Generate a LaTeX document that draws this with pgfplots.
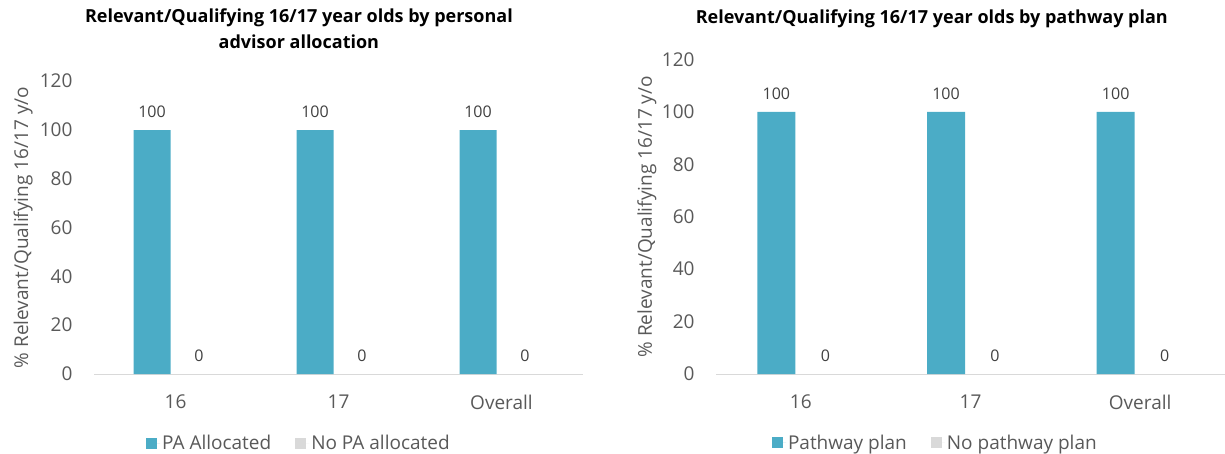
\documentclass[border=0pt]{standalone}
\usepackage{pgfplots}
\pgfplotsset{compat=1.18}
\usepackage{pgfplotstable}
\usepackage{fontspec}
\setmainfont{Open Sans}

\definecolor{teal}{HTML}{4BACC6}
\definecolor{lgrey}{HTML}{D9D9D9}
\definecolor{txt}{HTML}{595959}
\definecolor{vtxt}{HTML}{404040}

\pgfplotstableread{
x  yes no
0  100 0
1  100 0
2  100 0
}\paData

\pgfplotstableread{
x  yes no
0  100 0
1  100 0
2  100 0
}\ppData

\pgfplotsset{
  panel/.style={
    scale only axis,
    anchor=south west,
    ymin=0, ymax=120, ytick={0,20,...,120},
    xmin=-0.5, xmax=2.5,
    xtick={0,1,2}, xticklabels={16,17,Overall},
    axis lines*=left,
    x axis line style={draw=lgrey, line width=1pt, -},
    y axis line style={draw=none},
    tick style={draw=none},
    /pgf/number format/assume math mode=true,
    ticklabel style={font=\fontsize{19}{22}\selectfont, text=txt},
    xticklabel style={yshift=-13pt},
    yticklabel style={xshift=-18pt},
    nodes near coords,
    every node near coord/.append style={font=\fontsize{16}{19}\selectfont, text=vtxt, anchor=center, yshift=18pt},
    legend columns=2,
    legend style={draw=none, font=\fontsize{19}{22}\selectfont, text=txt, anchor=center,
      /tikz/every even column/.append style={column sep=22pt}},
    title style={font=\fontsize{18}{26}\selectfont\bfseries, align=center, anchor=center},
    ylabel style={font=\fontsize{19}{22}\selectfont, text=txt, rotate=0, anchor=center},
  },
  sqr/.style={legend image code/.code={\fill[##1, draw=none] (0pt,-5.5pt) rectangle (11pt,5.5pt);
    \path (0pt,0pt) -- (14pt,0pt);}},
}

\begin{document}
\begin{tikzpicture}
\useasboundingbox (0pt,0pt) rectangle (1225pt,-454pt);

% left panel
\begin{axis}[panel,
  at={(94pt,-374pt)}, width=489pt, height=292.8pt,
  ybar=10pt, bar width=37pt,
  title={Relevant/Qualifying 16/17 year olds by personal\\advisor allocation},
  title style={at={(axis description cs:0.419,1.158)}},
  ylabel={\% Relevant/Qualifying 16/17 y/o},
  ylabel style={at={(axis description cs:-0.145,0.5)}},
  legend style={at={(axis description cs:0.419,-0.236)}},
]
\addplot[fill=teal, draw=none, sqr] table[x=x, y=yes] {\paData};
\addplot[fill=lgrey, draw=none, sqr] table[x=x, y=no] {\paData};
\legend{PA Allocated, No PA allocated}
\end{axis}

% right panel
\begin{axis}[panel,
  at={(716pt,-374pt)}, width=509pt, height=314.4pt,
  ybar=11pt, bar width=38pt,
  title={Relevant/Qualifying 16/17 year olds by pathway plan},
  title style={at={(axis description cs:0.424,1.11)}},
  ylabel={\% Relevant/Qualifying 16/17 y/o},
  ylabel style={at={(axis description cs:-0.136,0.5)}},
  legend style={at={(axis description cs:0.431,-0.219)}},
]
\addplot[fill=teal, draw=none, sqr] table[x=x, y=yes] {\ppData};
\addplot[fill=lgrey, draw=none, sqr] table[x=x, y=no] {\ppData};
\legend{Pathway plan, No pathway plan}
\end{axis}
\end{tikzpicture}
\end{document}
